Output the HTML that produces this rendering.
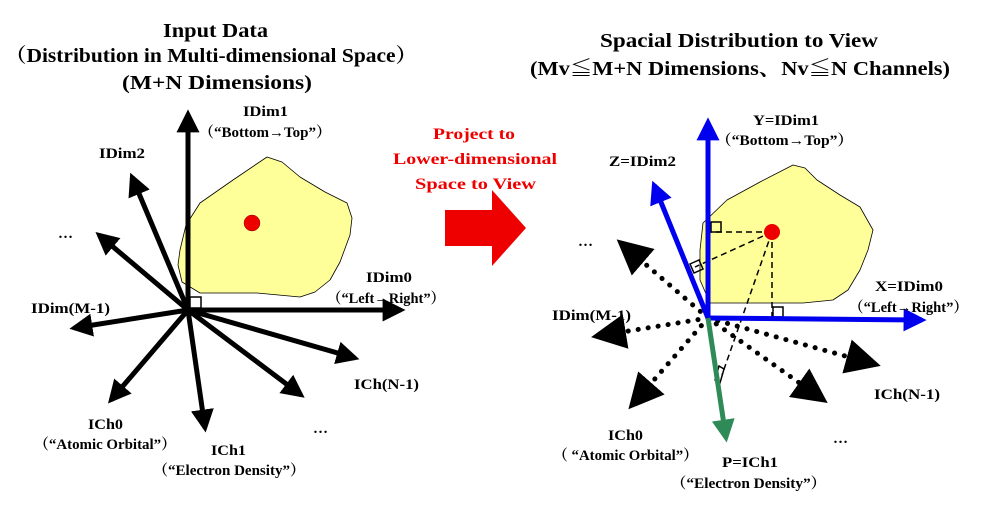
<!DOCTYPE html>
<html><head><meta charset="utf-8"><style>
html,body{margin:0;padding:0;background:#fff;width:985px;height:506px;overflow:hidden}
text{font-family:"Liberation Serif","Noto Serif CJK SC",serif;font-weight:bold}
</style></head><body>
<svg width="985" height="506" viewBox="0 0 985 506" xmlns="http://www.w3.org/2000/svg">
<defs>
<marker id="ab" viewBox="0 0 10 10" refX="8" refY="5" markerWidth="4.6" markerHeight="4.6" orient="auto" markerUnits="strokeWidth"><path d="M0,0 L10,5 L0,10 z" fill="#000"/></marker>
<marker id="ad" viewBox="0 0 10 10" refX="8" refY="5" markerWidth="7" markerHeight="7" orient="auto" markerUnits="strokeWidth"><path d="M0,0 L10,5 L0,10 z" fill="#000"/></marker>
<marker id="abl" viewBox="0 0 10 10" refX="8" refY="5" markerWidth="4.6" markerHeight="4.6" orient="auto" markerUnits="strokeWidth"><path d="M0,0 L10,5 L0,10 z" fill="#0000ee"/></marker>
<marker id="ag" viewBox="0 0 10 10" refX="8" refY="5" markerWidth="4.6" markerHeight="4.6" orient="auto" markerUnits="strokeWidth"><path d="M0,0 L10,5 L0,10 z" fill="#2e8b57"/></marker>
</defs>
<g font-size="20">
<text x="163" y="37" textLength="105" lengthAdjust="spacingAndGlyphs">Input Data</text>
<text x="5" y="62" textLength="412" lengthAdjust="spacingAndGlyphs">（Distribution in Multi-dimensional Space）</text>
<text x="122" y="89" textLength="190" lengthAdjust="spacingAndGlyphs">(M+N Dimensions)</text>
<text x="600" y="47" textLength="278" lengthAdjust="spacingAndGlyphs">Spacial Distribution to View</text>
<text x="530" y="75" textLength="420" lengthAdjust="spacingAndGlyphs">(Mv≦M+N Dimensions、Nv≦N Channels)</text>
</g>
<g font-size="16" fill="#ee0000">
<text x="433" y="139" textLength="82" lengthAdjust="spacingAndGlyphs">Project to</text>
<text x="393" y="164" textLength="164" lengthAdjust="spacingAndGlyphs">Lower-dimensional</text>
<text x="415" y="189" textLength="121" lengthAdjust="spacingAndGlyphs">Space to View</text>
</g>
<path d="M445,210 L492,210 L492,190 L526,228 L492,266 L492,246 L445,246 z" fill="#ee0000"/>
<!-- left -->
<path d="M180,250 L186,225 L200,203 L233,180 L267,157 L282,162 L300,177 L325,192 L347,203 L352,218 L350,235 L340,262 L330,280 L315,292 L300,297 L257,293 L200,293 L182,282 L178,265 z" fill="#ffff99" stroke="#000" stroke-width="0.8" stroke-linejoin="round"/>
<circle cx="252" cy="223" r="8" fill="#ee0000" stroke="#800" stroke-width="0.5"/>
<rect x="190" y="297" width="11" height="11" fill="#fff" stroke="#000" stroke-width="1.5"/>
<g stroke="#000" stroke-width="5" fill="none" marker-end="url(#ab)">
<line x1="188" y1="310" x2="188" y2="114"/>
<line x1="188" y1="310" x2="401" y2="310"/>
<line x1="188" y1="310" x2="132" y2="177"/>
<line x1="188" y1="310" x2="99" y2="235"/>
<line x1="188" y1="310" x2="74" y2="328"/>
<line x1="188" y1="310" x2="111" y2="400"/>
<line x1="188" y1="310" x2="205" y2="428"/>
<line x1="188" y1="310" x2="301" y2="395"/>
<line x1="188" y1="310" x2="355" y2="358"/>
</g>
<g font-size="15">
<text x="243" y="116" textLength="45" lengthAdjust="spacingAndGlyphs">IDim1</text>
<text x="199" y="137" textLength="132" lengthAdjust="spacingAndGlyphs">（“Bottom→Top”）</text>
<text x="99" y="158" textLength="46" lengthAdjust="spacingAndGlyphs">IDim2</text>
<text x="58" y="238">…</text>
<text x="366" y="282" textLength="46" lengthAdjust="spacingAndGlyphs">IDim0</text>
<text x="327" y="303" textLength="118" lengthAdjust="spacingAndGlyphs">（“Left→Right”）</text>
<text x="31" y="313" textLength="79" lengthAdjust="spacingAndGlyphs">IDim(M-1)</text>
<text x="354" y="389" textLength="65" lengthAdjust="spacingAndGlyphs">ICh(N-1)</text>
<text x="88" y="429" textLength="35" lengthAdjust="spacingAndGlyphs">ICh0</text>
<text x="34" y="449" textLength="142" lengthAdjust="spacingAndGlyphs">（“Atomic Orbital”）</text>
<text x="211" y="455" textLength="35" lengthAdjust="spacingAndGlyphs">ICh1</text>
<text x="153" y="475" textLength="152" lengthAdjust="spacingAndGlyphs">（“Electron Density”）</text>
<text x="313" y="433">…</text>
</g>
<!-- right -->
<path d="M700,250 L703,223 L727,200 L760,182 L793,165 L805,168 L817,180 L840,195 L860,207 L873,230 L868,250 L860,270 L848,290 L833,300 L803,303 L710,303 L700,280 z" fill="#ffff99" stroke="#000" stroke-width="0.8" stroke-linejoin="round"/>
<g stroke="#000" stroke-width="5" stroke-dasharray="0.1 10" stroke-linecap="round" fill="none" marker-end="url(#ad)">
<line x1="708" y1="318" x2="622" y2="244"/>
<line x1="708" y1="318" x2="598" y2="336"/>
<line x1="708" y1="318" x2="633" y2="404"/>
<line x1="708" y1="318" x2="822" y2="399"/>
<line x1="708" y1="318" x2="874" y2="364"/>
</g>
<g stroke="#000" stroke-width="1.5" stroke-dasharray="6 4" fill="none">
<line x1="772" y1="232" x2="708" y2="232"/>
<line x1="772" y1="232" x2="772" y2="318"/>
<line x1="772" y1="232" x2="695" y2="267"/>
<line x1="772" y1="232" x2="722" y2="375"/>
</g>
<g fill="none" stroke="#000" stroke-width="1.5">
<rect x="711" y="222" width="10" height="10"/>
<rect x="773" y="307" width="10" height="10"/>
<path d="M690,264 l9,-4 l4,9 l-9,4 z"/>
<path d="M719,366 l-4,14 l5,3 l4,-14 z"/>
</g>
<circle cx="772" cy="232" r="8" fill="#ee0000"/>
<g stroke-width="5" fill="none">
<line x1="708" y1="318" x2="708" y2="122" stroke="#0000ee" marker-end="url(#abl)"/>
<line x1="708" y1="318" x2="922" y2="320" stroke="#0000ee" marker-end="url(#abl)"/>
<line x1="708" y1="318" x2="654" y2="185" stroke="#0000ee" marker-end="url(#abl)"/>
<line x1="708" y1="318" x2="726" y2="438" stroke="#2e8b57" marker-end="url(#ag)"/>
</g>
<g font-size="15">
<text x="753" y="125" textLength="66" lengthAdjust="spacingAndGlyphs">Y=IDim1</text>
<text x="716" y="145" textLength="137" lengthAdjust="spacingAndGlyphs">（“Bottom→Top”）</text>
<text x="609" y="166" textLength="67" lengthAdjust="spacingAndGlyphs">Z=IDim2</text>
<text x="578" y="246">…</text>
<text x="875" y="291" textLength="68" lengthAdjust="spacingAndGlyphs">X=IDim0</text>
<text x="849" y="312" textLength="119" lengthAdjust="spacingAndGlyphs">（“Left→Right”）</text>
<text x="552" y="320" textLength="79" lengthAdjust="spacingAndGlyphs">IDim(M-1)</text>
<text x="874" y="399" textLength="66" lengthAdjust="spacingAndGlyphs">ICh(N-1)</text>
<text x="608" y="440" textLength="35" lengthAdjust="spacingAndGlyphs">ICh0</text>
<text x="553" y="460" textLength="145" lengthAdjust="spacingAndGlyphs">（ “Atomic Orbital”）</text>
<text x="722" y="467" textLength="56" lengthAdjust="spacingAndGlyphs">P=ICh1</text>
<text x="671" y="488" textLength="155" lengthAdjust="spacingAndGlyphs">（“Electron Density”）</text>
<text x="833" y="443">…</text>
</g>
</svg>
</body></html>
